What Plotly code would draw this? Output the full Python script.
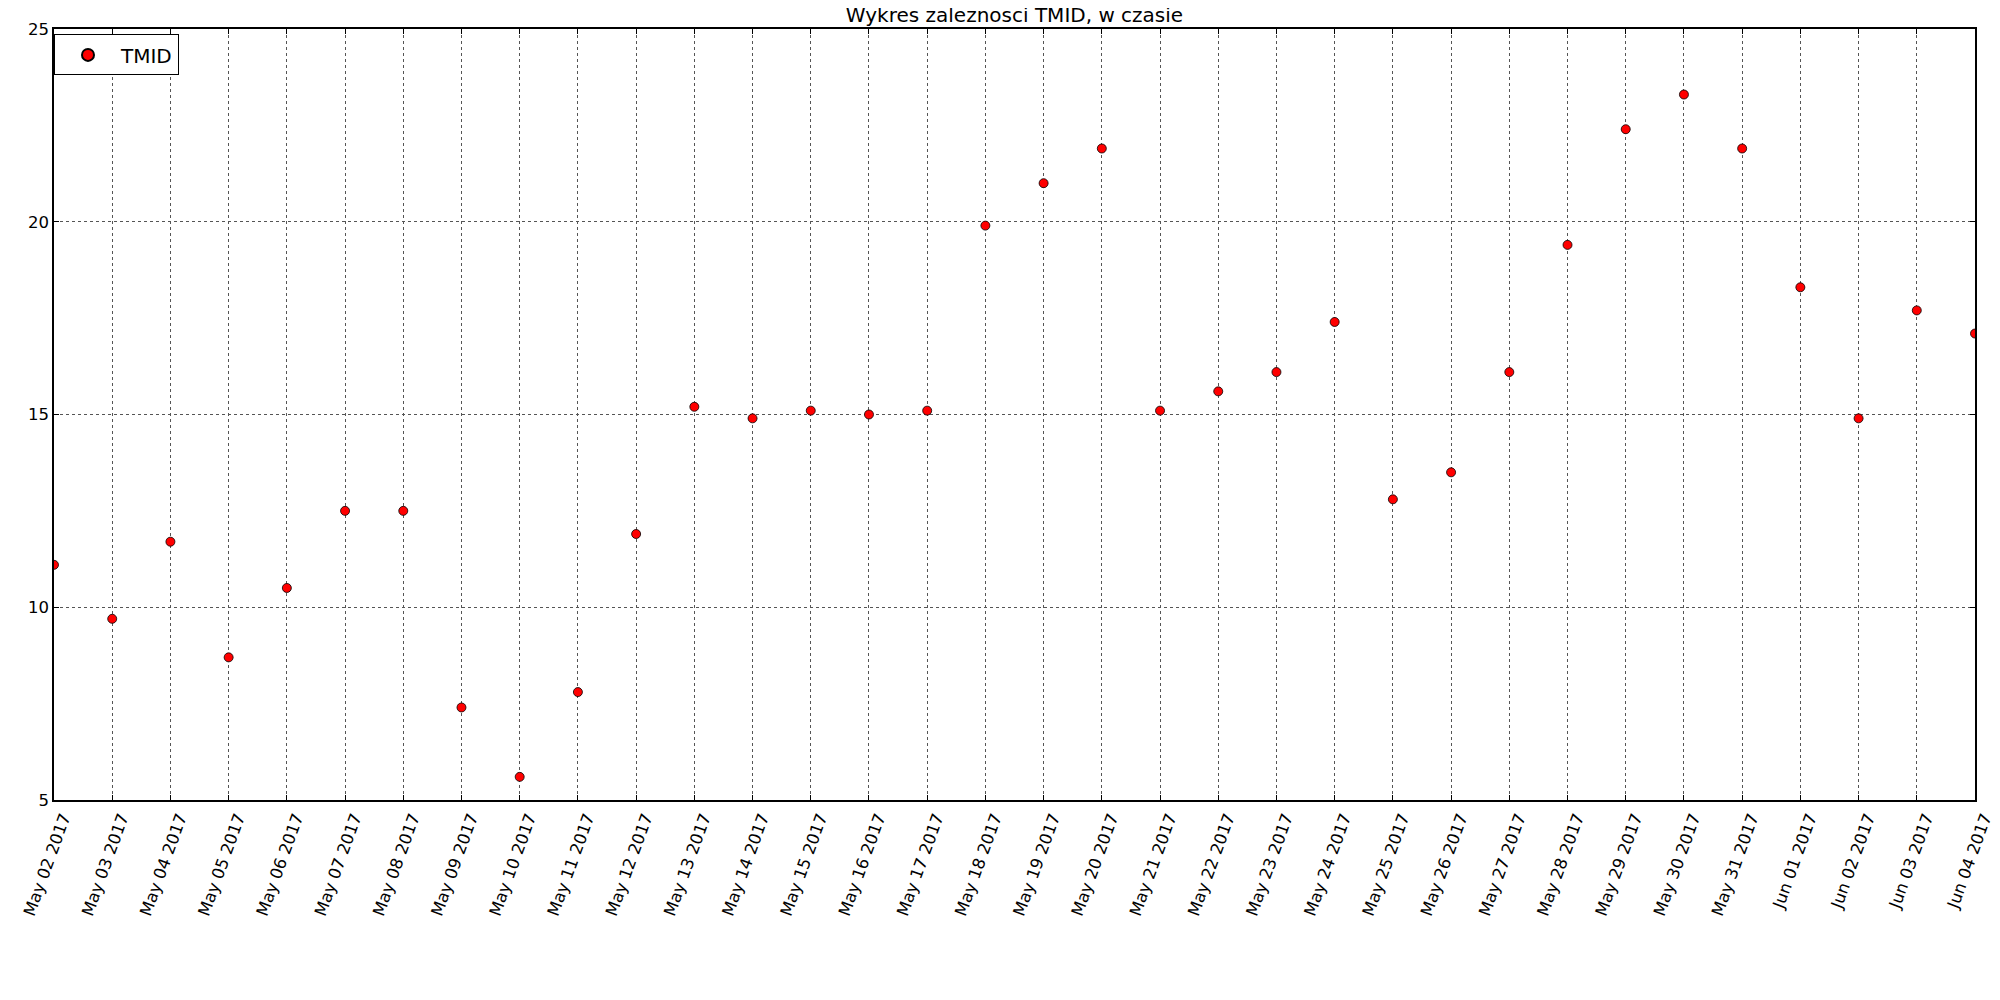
import plotly.graph_objects as go
import pandas as pd

dates = pd.date_range("2017-05-02", "2017-06-04", freq="D")
tmid = [11.1, 9.7, 11.7, 8.7, 10.5, 12.5, 12.5, 7.4, 5.6, 7.8, 11.9,
        15.2, 14.9, 15.1, 15.0, 15.1, 19.9, 21.0, 21.9, 15.1, 15.6, 16.1,
        17.4, 12.8, 13.5, 16.1, 19.4, 22.4, 23.3, 21.9, 18.3, 14.9, 17.7, 17.1]
y_ticks = [5, 10, 15, 20, 25]
title_text = "Wykres zaleznosci TMID, w czasie"
series_name = "TMID"

FONT = "DejaVu Sans"

fig = go.Figure()
fig.add_trace(go.Scatter(
    x=dates, y=tmid, mode="markers", name=series_name,
    marker=dict(color="#ff0000", size=9, line=dict(color="black", width=0.8)),
    cliponaxis=True,
))

fig.update_layout(
    width=2000, height=1000,
    margin=dict(l=37, r=26, t=18, b=208),
    paper_bgcolor="white", plot_bgcolor="white",
    font=dict(family=FONT, size=16.5, color="black"),
    title=dict(text=title_text, x=0.5, xref="paper", xanchor="center",
               y=1.0, yref="container", yanchor="top",
               font=dict(family=FONT, size=20, color="black")),
    showlegend=True,
    legend=dict(x=0.0, y=0.993, xanchor="left", yanchor="top",
                bgcolor="white", bordercolor="black", borderwidth=1,
                font=dict(family=FONT, size=20, color="black"),
                itemwidth=56, itemsizing="constant"),
)

fig.update_xaxes(
    range=[dates[0], dates[-1]],
    tickmode="linear", tick0=dates[0], dtick=86400000,
    tickformat="%b %d %Y", tickangle=-70,
    ticks="inside", ticklen=5, tickcolor="black", tickwidth=1,
    showline=True, linecolor="black", linewidth=1.5, mirror="ticks",
    showgrid=True, gridcolor="#555555", gridwidth=1, griddash="dot",
    zeroline=False, ticklabelshift=9, ticklabeloverflow="allow",
    tickfont=dict(family=FONT, size=16.5, color="black"),
)
fig.update_yaxes(
    range=[5, 25], tickmode="array", tickvals=y_ticks,
    ticktext=[str(v) for v in y_ticks],
    ticks="inside", ticklen=5, tickcolor="black", tickwidth=1,
    showline=True, linecolor="black", linewidth=1.5, mirror="ticks",
    showgrid=True, gridcolor="#555555", gridwidth=1, griddash="dot",
    zeroline=False,
    tickfont=dict(family=FONT, size=16.5, color="black"),
)

fig.write_html("out.html")
